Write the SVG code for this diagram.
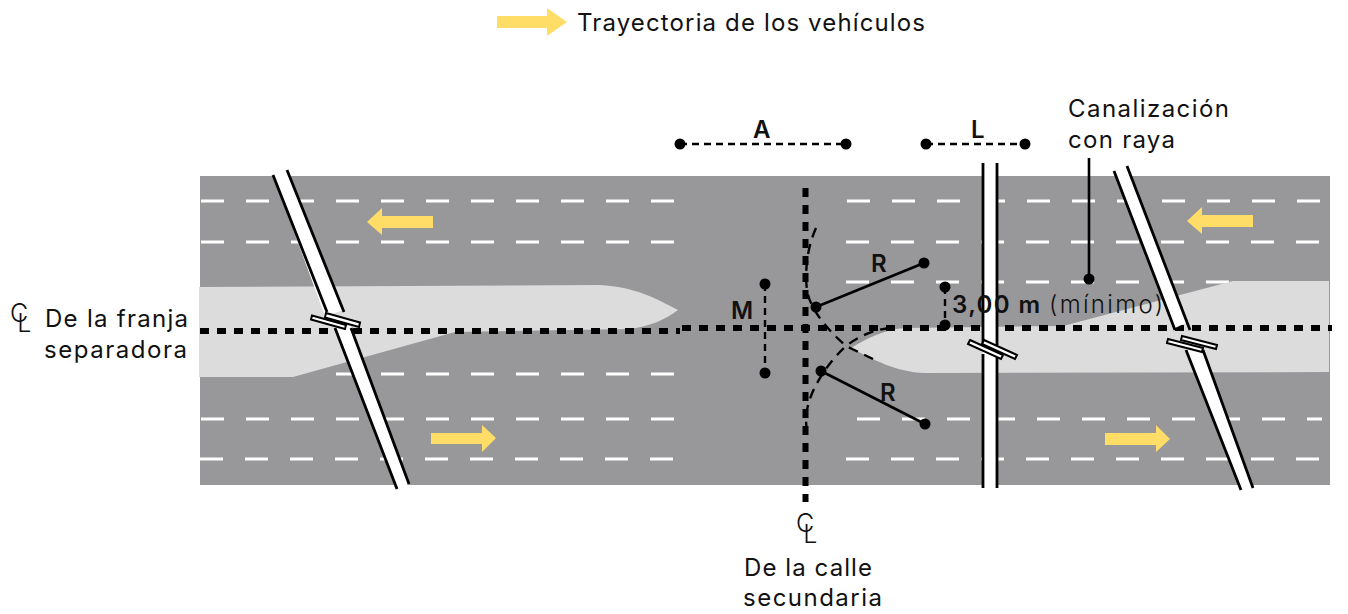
<svg xmlns="http://www.w3.org/2000/svg" width="1348" height="614" viewBox="0 0 1348 614">
<style>
.t{font-family:"Inter","Noto Sans",sans-serif;font-size:24px;fill:#111}
.b{font-weight:600}
.lane{stroke:#fff;stroke-width:3;stroke-dasharray:23 22;fill:none}
.cl{stroke:#000;stroke-width:6;stroke-dasharray:9 8;fill:none}
.dim{stroke:#000;stroke-width:2.4;stroke-dasharray:7 5;fill:none}
.curve{stroke:#000;stroke-width:2.4;stroke-dasharray:10 7;fill:none}
.solid{stroke:#000;stroke-width:2.6;fill:none}
.rail{stroke:#000;stroke-width:2.8;fill:none}
.band{fill:#fff}
.tick{fill:#fff;stroke:#000;stroke-width:2}
.arrow{fill:#ffdd66}
.med{fill:#dcdcdd}
.sym{font-family:"Inter","Noto Sans",sans-serif;font-size:25px;font-weight:300;fill:#111}
circle{fill:#000}
</style>
<g id="road">
<rect x="200" y="176" width="1130" height="309" fill="#98989a"/>
<path class="lane" d="M201 201H675M201 242H675M336 374H675M201 419H675M200 459H675"/>
<path class="lane" d="M847 201H1322M846 242H1322M846 282H1240M857 419H1322M846 459H1322"/>
</g>
<g id="medians">
<path class="med" d="M199 287L600 285C635 287 655 298 678 310C665 320 650 326 630 329L455 332L293 377H199Z"/>
<path class="med" d="M851 348C868 338 885 329 905 328L1063 326L1233 281H1329V372L925 373C895 372 875 360 851 348Z"/>
</g>
<g id="arrows">
<path id="arrow-legend" class="arrow" d="M497 16H547V8L567 22L547 36V28H497Z"/>
<path id="arrow-left-top" class="arrow" d="M367 222L382 208V216H433V228H382V235Z"/>
<path id="arrow-right-top" class="arrow" d="M1187 221L1202 207V215H1253V227H1202V234Z"/>
<path id="arrow-left-bottom" class="arrow" d="M431 433H482V425L496 438L482 452V444H431Z"/>
<path id="arrow-right-bottom" class="arrow" d="M1105 433H1156V425L1170 439L1156 452V445H1105Z"/>
</g>
<g id="connectors">
<path class="cl" d="M200 331H680"/>
<path class="cl" d="M682 328H1332"/>
<path class="cl" d="M805.500 188V502"/>
<path class="curve" d="M816 228C806 250 805 275 807 290C809 305 822 325 846 346L873 359"/>
<path class="curve" d="M890 328C870 330 850 340 838 354C825 368 806 395 806 420L807 438"/>
<path class="solid" d="M816 307L924 263"/>
<path class="solid" d="M821 371L925 424"/>
<path class="dim" d="M765 284V373"/>
<path class="dim" d="M945 287V325"/>
<path class="dim" d="M680 144H846"/>
<path class="dim" d="M926 144H1025"/>
<path class="solid" d="M1089 158V279"/>
</g>
<g id="breaks">
<g id="break-left">
<path class="band" d="M273 175L287 170L344 310L325 316ZM335 326L351 326L409 484L397 489Z"/>
<path class="rail" d="M273 175L327 312M287 170L344 312M335 328L397 489M351 328L409 484"/>
<path class="tick" d="M312 315.500L346 325L345 329L311 319.500Z"/>
<path class="tick" d="M326 313L360 322.500L359 327L325 317.500Z"/>
</g>
<g id="break-middle">
<rect class="band" x="983" y="163" width="14" height="325"/>
<path class="rail" d="M983 163V345M997 163V345M983 354V488M997 354V488"/>
<path class="tick" d="M970 340L1003 355L1001 359L968 344Z"/>
<path class="tick" d="M984 340L1017 355L1015 359L982 344Z"/>
</g>
<g id="break-right">
<path class="band" d="M1114 171L1127 166L1188 322L1175 328ZM1186 350L1203 348L1253 488L1241 490Z"/>
<path class="rail" d="M1114 171L1175 330M1127 166L1190 330M1186 350L1241 490M1203 350L1253 488"/>
<path class="tick" d="M1168 339L1203 348L1202 352L1167 343Z"/>
<path class="tick" d="M1182 336L1217 345L1216 349L1181 340Z"/>
</g>
</g>
<g id="dots">
<circle cx="816" cy="307" r="5.500"/><circle cx="924" cy="263" r="5.500"/>
<circle cx="821" cy="371" r="5.500"/><circle cx="925" cy="424" r="5.500"/>
<circle cx="765" cy="284" r="5.500"/><circle cx="765" cy="373" r="5.500"/>
<circle cx="945" cy="287" r="5.500"/><circle cx="945" cy="325" r="5.500"/>
<circle cx="680" cy="144" r="5.500"/><circle cx="846" cy="144" r="5.500"/>
<circle cx="926" cy="144" r="5.500"/><circle cx="1025" cy="144" r="5.500"/>
<circle cx="1089" cy="279" r="5.500"/>
</g>
<g id="labels">
<text class="t" x="577" y="31" textLength="348">Trayectoria de los vehículos</text>
<text class="t" x="1068" y="117" textLength="161">Canalización</text>
<text class="t" x="1068" y="148" textLength="107">con raya</text>
<text class="t b" x="753" y="138">A</text>
<text class="t b" x="971" y="138">L</text>
<text class="t b" x="871" y="272">R</text>
<text class="t b" x="880" y="401">R</text>
<text class="t b" x="731" y="319">M</text>
<text class="t b" x="952" y="313" textLength="88">3,00 m</text>
<text class="t" x="1049" y="313" textLength="114" style="font-weight:300">(mínimo)</text>
<text class="t" x="45" y="327" textLength="143">De la franja</text>
<text class="t" x="44" y="358" textLength="143">separadora</text>
<text class="t" x="744" y="576" textLength="128">De la calle</text>
<text class="t" x="743" y="606" textLength="139">secundaria</text>
<text class="sym" x="10" y="322">C<tspan dx="-11" dy="10">L</tspan></text>
<text class="sym" x="796" y="532">C<tspan dx="-11" dy="11">L</tspan></text>
</g>
</svg>
